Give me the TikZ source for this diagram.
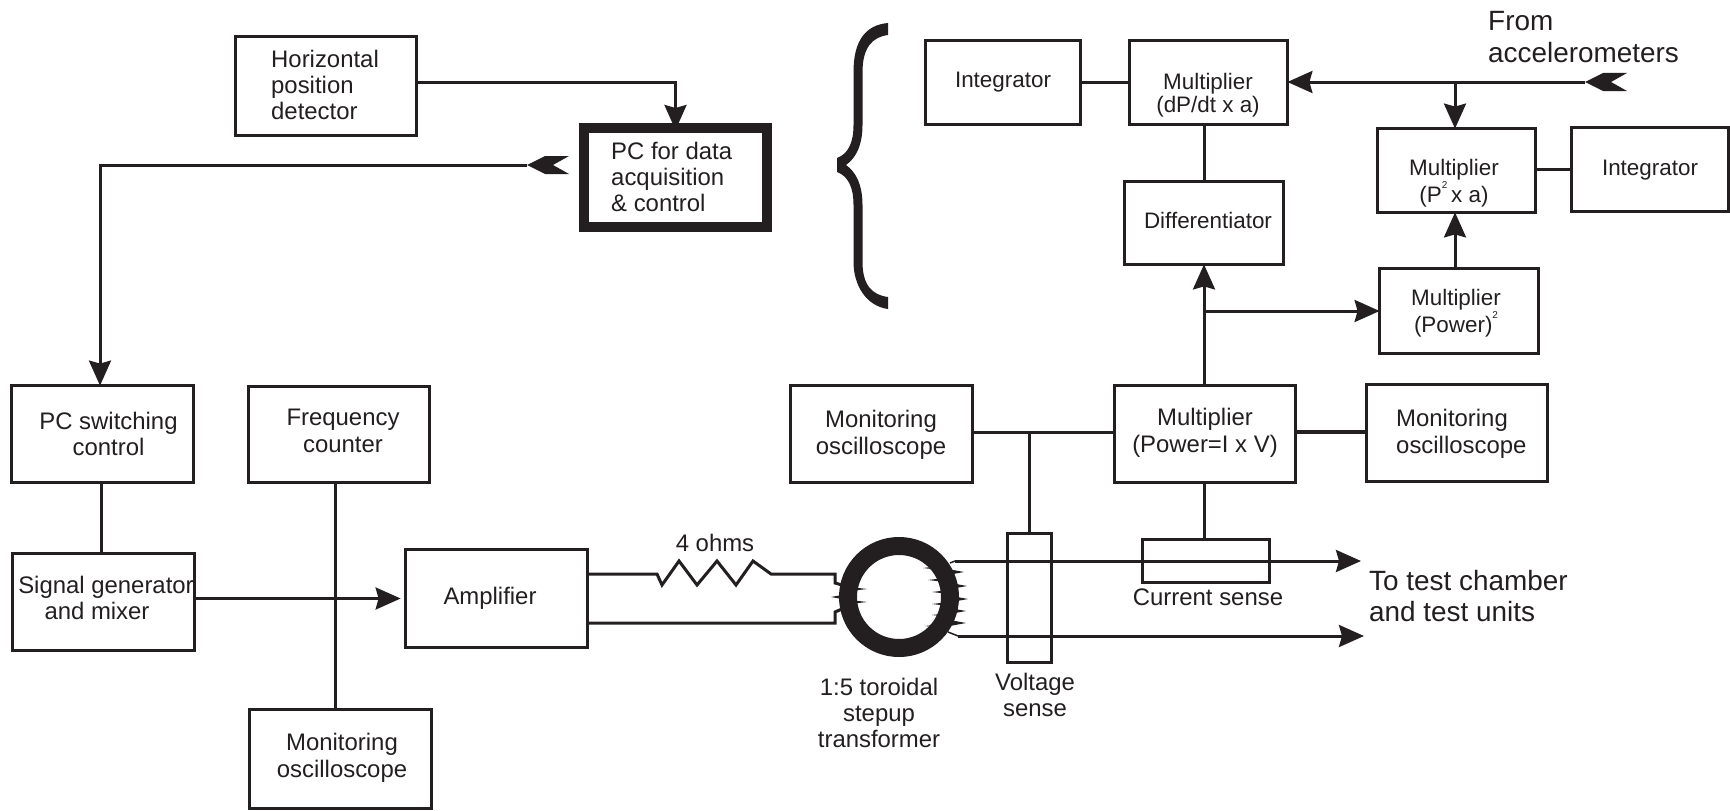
\documentclass[tikz,border=0pt]{standalone}
\usepackage{fontspec}
\setmainfont{Liberation Sans}
\usetikzlibrary{arrows.meta,calc}
\definecolor{ink}{HTML}{231F20}
\tikzset{
  boxst/.style={draw=ink,line width=3.2bp,outer sep=0pt,inner sep=0pt,align=center,text=ink,font=\fontsize{24}{26.5}\selectfont},
  wire/.style={draw=ink,line width=3bp},
  thinwire/.style={draw=ink,line width=2.6bp},
  arr/.style={wire,-{Stealth[length=25bp,width=22bp,inset=3bp]}},
  lab/.style={text=ink,align=center,inner sep=0pt,font=\fontsize{24}{26.5}\selectfont},
  smalllab/.style={text=ink,align=center,inner sep=0pt,font=\fontsize{22.5}{25}\selectfont},
  biglab/.style={text=ink,align=left,inner sep=0pt,font=\fontsize{28}{32}\selectfont}
}
\newcommand{\bx}[5]{\node[boxst,minimum width={(#4-#2-1.2)*1bp},minimum height={(#5-#3-1.2)*1bp}] (#1) at ({(#2+#4)/2},{(#3+#5)/2}) {};}
\newcommand{\forktail}[1]{\fill[ink] (#1) -- ++(18,-9) -- ++(24,0) -- ++(-16,9) -- ++(16,9) -- ++(-24,0) -- cycle;}
\newcommand{\sq}{\raisebox{.62em}{\fontsize{10}{10}\selectfont 2}}
\begin{document}
\begin{tikzpicture}[x=1bp,y=-1bp]
\useasboundingbox (0,0) rectangle (1730,811);
\fill[white] (0,0) rectangle (1730,811);
% boxes
\bx{hpd}{235}{36}{417}{136}
\node[boxst,line width=10bp,minimum width=183bp,minimum height=99bp] (pc) at (675.5,177.5) {};
\bx{intl}{925}{40}{1081}{125}
\bx{mdp}{1129}{40}{1288}{125}
\bx{dif}{1124}{181}{1284}{265}
\bx{mp2}{1377}{128}{1536}{213}
\bx{intr}{1571}{127}{1729}{212}
\bx{mpw2}{1379}{268}{1539}{354}
\bx{mon1}{790}{385}{973}{483}
\bx{mpw}{1114}{385}{1296}{483}
\bx{mon2}{1366}{384}{1548}{482}
\bx{swc}{11}{385}{194}{483}
\bx{frq}{248}{386}{430}{483}
\bx{sig}{12}{553}{195}{651}
\bx{amp}{405}{549}{588}{648}
\bx{mon3}{249}{709}{432}{809}
\bx{cur}{1142}{539}{1270}{583}
\bx{vol}{1007}{533}{1052}{663}
% box texts
\node[lab,align=left,anchor=west] (hpd-t) at (271,85) {Horizontal\\position\\detector};
\node[lab,align=left,anchor=west] (pc-t) at (611,177) {PC for data\\acquisition\\\& control};
\node[smalllab] (intl-t) at (1003,82) {Integrator};
\node[smalllab,font=\fontsize{22.5}{23}\selectfont] (mdp-t) at (1208,95) {Multiplier\\(dP/dt x a)};
\node[smalllab] (dif-t) at (1208,220) {Differentiator};
\node[smalllab] (mp2-t) at (1454,183) {Multiplier\\(P\sq\,x a)};
\node[smalllab] (intr-t) at (1650,170) {Integrator};
\node[smalllab,font=\fontsize{22.5}{23}\selectfont] (mpw2-t) at (1456,313) {Multiplier\\(Power)\sq};
\node[lab] (mon1-t) at (881,435) {Monitoring\\oscilloscope};
\node[lab] (mpw-t) at (1205,433) {Multiplier\\(Power=I x V)};
\node[lab,align=left,anchor=west] (mon2-t) at (1396,434) {Monitoring\\oscilloscope};
\node[lab] (swc-t) at (108.5,434) {PC switching\\control};
\node[lab] (frq-t) at (343,431) {Frequency\\counter};
\node[lab] (sig-t) at (106,598) {Signal generator\\and mixer\hspace*{18bp}};
\node[lab] (amp-t) at (490,598) {Amplifier};
\node[lab] (mon3-t) at (342,758) {Monitoring\\oscilloscope};
% labels
\node[lab] (ohm) at (715,543) {4 ohms};
\node[lab] (curl) at (1208,597) {Current sense};
\node[lab] (voll) at (1035,695) {Voltage\\sense};
\node[lab] (tral) at (879,713) {1:5 toroidal\\stepup\\transformer};
\node[biglab,anchor=west] (test) at (1369,596) {To test chamber\\and test units};
\node[biglab,anchor=west] (accl) at (1488,37) {From\\accelerometers};
% free ends
\coordinate (pcout) at (527,165);
\coordinate (accin) at (1585,82);
\coordinate (tapa) at (1204,311);
\coordinate (tapb) at (1029,432);
\coordinate (tapc) at (1455,82);
\coordinate (wta) at (588,574);
\coordinate (wba) at (588,623);
\coordinate (otop) at (955,561);
\coordinate (obot) at (958,636);
% connectors
\draw[arr] (hpd.east |- 0,82) -| ([yshift=-2]pc.north);
\draw[arr] (pcout) -| ([xshift=-2.5]swc.north);
\forktail{pcout}
\forktail{accin}
\draw[wire] ([xshift=-1]swc.south) -- ([xshift=-1]swc.south |- sig.north);
\draw[wire] ([xshift=-4]frq.south) -- ([xshift=-4]frq.south |- mon3.north);
\draw[arr] (sig.east |- amp.west) -- ([xshift=-5]amp.west);
\draw[wire] (intl.east |- 0,82) -- (mdp.west |- 0,82);
\draw[arr] (accin) -- (mdp.east |- accin);
\draw[wire] (mdp.south -| dif.north) -- (dif.north);
\draw[arr] (tapc) -- (tapc |- mp2.north);
\draw[thinwire] (mp2.east |- intr.west) -- (intr.west);
\draw[arr] (tapc |- mpw2.north) -- (tapc |- mp2.south);
\draw[arr] (mpw.north -| dif.south) -- (dif.south);
\draw[arr] (tapa) -- (mpw2.west |- tapa);
\draw[wire] (mon1.east |- tapb) -- (mpw.west |- tapb);
\draw[wire,line width=4bp] (mpw.east |- tapb) -- (mon2.west |- tapb);
\draw[wire] (tapb) -- (tapb |- vol.north);
\draw[wire] (mpw.south -| dif.south) -- (dif.south |- cur.north);
\draw[wire] (wta) -- (657,574) -- (662,585) -- (679,561) -- (697,585) -- (717,561) -- (736,585) -- (753,561) -- (771,574) -- (835,574) -- (835,583) -- (842,585);
\draw[wire] (wba) -- (835,623) -- (835,612) -- (842,609);
\draw[arr] (otop) -- (1361,561);
\draw[arr] (obot) -- (1364,636);
\draw[draw=ink,line width=1.5bp] (otop) -- (950,563);
\draw[draw=ink,line width=1.5bp] (obot) -- (948,632);
% transformer
\node[circle,draw=ink,line width=18bp,minimum size=102bp,inner sep=0pt,outer sep=0pt] (tor) at (899,597) {};
\foreach \tx/\ty/\dx in {831/597/14,867/589/-22,867/602/-22,923/568/22,928/580/22,932/592/22,932/604/22,932/615/22,925/626/22,964/572/-14,967/586/-14,968/599/-14,966/611/-14,966/623/-14}{
  \fill[ink] (\tx,\ty) -- (\tx+\dx,\ty-2.6) -- (\tx+\dx,\ty+2.6) -- cycle;
}
% brace
\fill[ink] (888,23) .. controls (866,25) and (853.5,40) .. (853.5,72) -- (853.5,125) .. controls (853.5,143) and (848,154) .. (837,158) -- (837,172) .. controls (848,176) and (853.5,187) .. (853.5,205) -- (853.5,262) .. controls (853.5,285) and (866,306) .. (888,309) -- (888,297) .. controls (872,295) and (862.5,285) .. (862.5,262) -- (862.5,205) .. controls (862.5,185) and (856,172) .. (846,165) .. controls (856,158) and (862.5,145) .. (862.5,125) -- (862.5,72) .. controls (862.5,48) and (872,37) .. (888,35) -- cycle;
\end{tikzpicture}
\end{document}
